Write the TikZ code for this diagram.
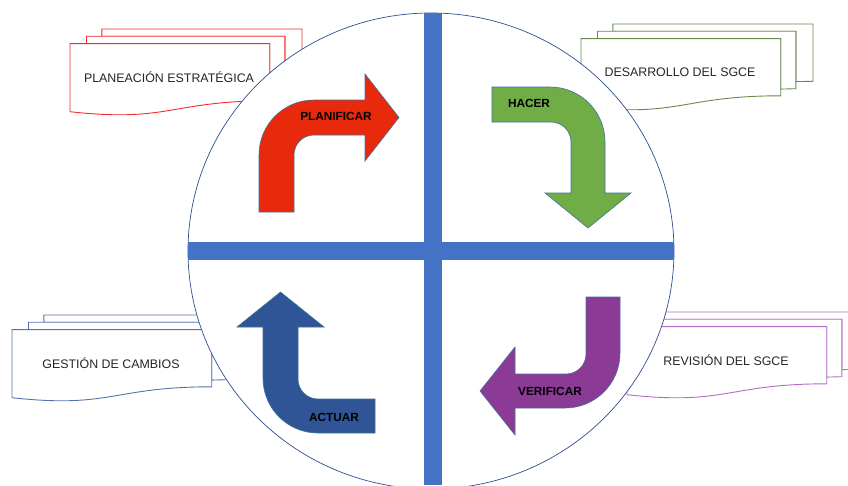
\documentclass[tikz,border=0pt]{standalone}
\usepackage{fontspec}
\setmainfont{Liberation Sans}
\definecolor{barblue}{HTML}{4472C4}
\definecolor{ringblue}{HTML}{2F4F8F}
\definecolor{edgeblue}{HTML}{41719C}
\definecolor{planred}{HTML}{E8290B}
\definecolor{hacergreen}{HTML}{70AD47}
\definecolor{verifpurple}{HTML}{8B3A96}
\definecolor{actuarblue}{HTML}{2F5597}
\definecolor{docred}{HTML}{F52A2A}
\definecolor{docgreen}{HTML}{6A8A4C}
\definecolor{docblue}{HTML}{5474AC}
\definecolor{docpurple}{HTML}{B36CC6}
\definecolor{darktext}{HTML}{262626}

\begin{document}
\begin{tikzpicture}[x=1pt, y=-1pt,
     bar/.style = {fill=barblue},
    ring/.style = {draw=ringblue, fill=white, line width=0.7pt},
    bent/.style = {draw=edgeblue, line width=0.6pt},
     doc/.style = {draw=#1, fill=white, line width=0.9pt},
 doctext/.style = {text=darktext, font=\fontsize{12.4}{14}\selectfont},
cyclelabel/.style = {font=\bfseries\fontsize{11.8}{13}\selectfont},
multidoc/.pic = {
    \path[pic actions] (31.9,7.2) -- (31.9,0) -- (232,0) -- (232,57.3) -- (214.8,57.6) -- (214.8,7.2) -- cycle;
    \path[pic actions] (16.5,14.6) -- (16.5,7.2) -- (214.8,7.2) -- (214.8,64.7) -- (199.7,65.1) -- (199.7,14.6) -- cycle;
    \path[pic actions] (0,82.7) .. controls (99.9,93.7) and (99.9,71.8) .. (199.7,71.8) -- (199.7,14.6) -- (0,14.6) -- cycle;
    \node[doctext] (-label) at (99,48.5) {\tikzpictext};
    }
                        ]
\useasboundingbox (0,0) rectangle (848,485);
% documents
\pic[doc=docred, pic text={PLANEACIÓN ESTRATÉGICA}] (plan) at (70,29) {multidoc};
\pic[doc=docgreen, pic text={DESARROLLO DEL SGCE}] (desa) at (581,24) {multidoc};
\pic[doc=docblue, pic text={GESTIÓN DE CAMBIOS}] (gest) at (12,315) {multidoc};
\pic[doc=docpurple, pic text={REVISIÓN DEL SGCE}] (revi) at (627,312) {multidoc};
% circle and cross
\filldraw[ring] (431,251) ellipse [x radius=243, y radius=238];
\begin{scope}
    \clip (431,251) ellipse [x radius=243, y radius=238];
    \fill[bar] (424,0) rectangle (442,485);
    \fill[bar] (188,242) rectangle (674,260);
\end{scope}
% bent arrows
\filldraw[bent, fill=planred] (259,212) -- (259,155) to[out=90,in=180] (314,100) -- (365,100)
    -- (365,74) -- (399,117.5) -- (365,161) -- (365,135) -- (314,135) to[out=180,in=90] (294,155) -- (294,212) -- cycle;
\filldraw[bent, fill=hacergreen] (492,87) -- (550,87) to[out=0,in=90] (605,142) -- (605,193)
    -- (631,193) -- (588,228) -- (545,193) -- (571,193) -- (571,142) to[out=90,in=0] (551,122) -- (492,122) -- cycle;
\filldraw[bent, fill=verifpurple] (620,297) -- (620,353) to[out=-90,in=0] (565,408) -- (515,408)
    -- (515,435) -- (480,391) -- (515,347) -- (515,374) -- (566,374) to[out=0,in=-90] (586,354) -- (586,297) -- cycle;
\filldraw[bent, fill=actuarblue] (375,433) -- (318,433) to[out=180,in=-90] (263,378) -- (263,327)
    -- (237,327) -- (280.5,292) -- (324,327) -- (298,327) -- (298,379) to[out=-90,in=180] (318,399) -- (375,399) -- cycle;
% labels
\node[cyclelabel] (planificar) at (336,116) {PLANIFICAR};
\node[cyclelabel] (hacer) at (529,103) {HACER};
\node[cyclelabel] (verificar) at (550,391) {VERIFICAR};
\node[cyclelabel] (actuar) at (334,417) {ACTUAR};
\end{tikzpicture}
\end{document}
